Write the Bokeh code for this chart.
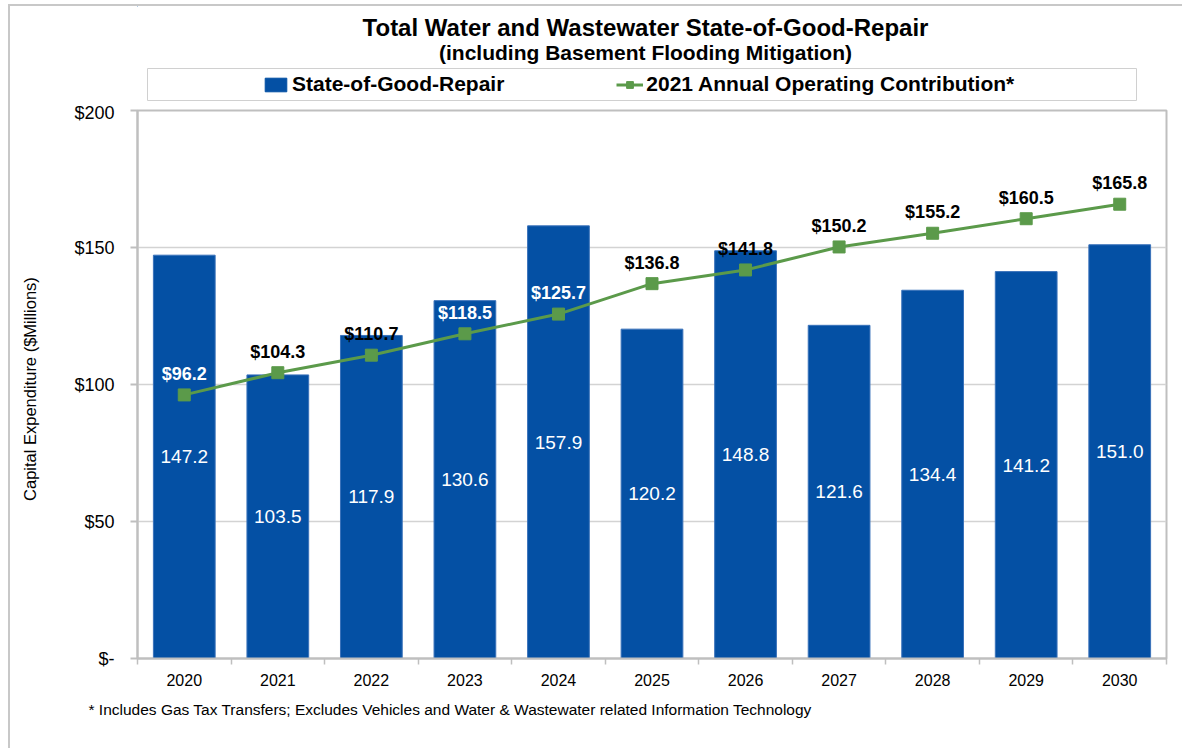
from bokeh.plotting import figure
from bokeh.models import (Range1d, Legend, LegendItem, FixedTicker, ColumnDataSource, Title)
from bokeh.layouts import column
from bokeh.core.properties import value
from bokeh.embed import file_html
from bokeh.resources import INLINE

# ---------------- data ----------------
years = ["2020", "2021", "2022", "2023", "2024", "2025", "2026", "2027", "2028", "2029", "2030"]
state_of_good_repair = [147.2, 103.5, 117.9, 130.6, 157.9, 120.2, 148.8, 121.6, 134.4, 141.2, 151.0]
operating_contribution = [96.2, 104.3, 110.7, 118.5, 125.7, 136.8, 141.8, 150.2, 155.2, 160.5, 165.8]
y_ticks = [0, 50, 100, 150, 200]
y_tick_labels = ["$-", "$50", "$100", "$150", "$200"]

title_text = "Total Water and Wastewater State-of-Good-Repair"
subtitle_text = "(including Basement Flooding Mitigation)"
series_names = ["State-of-Good-Repair", "2021 Annual Operating Contribution*"]
y_label = "Capital  Expenditure  ($Millions)"
footnote = "* Includes Gas Tax Transfers; Excludes Vehicles and Water & Wastewater related Information Technology"

# ---------------- styles ----------------
BAR = "#0450A4"
BAR_EDGE = "#3A72BA"
GREEN = "#5B9A4A"
GRAY = "#BFBFBF"
GRID = "#D3D3D3"
SANS = "Liberation Sans"

W = 1172
HEADER_H = 96
MAIN_H = 646
FRAME_L, FRAME_R = 137, 1166      # page pixels of the plot area (header frame is aligned to it)
HEAD_TOP = 6

# ---------------- header (titles + legend) ----------------
hp = figure(width=W, height=HEADER_H, x_range=Range1d(FRAME_L, FRAME_R),
            y_range=Range1d(HEAD_TOP + HEADER_H, HEAD_TOP),
            toolbar_location=None, output_backend="svg", min_border=0)
hp.axis.visible = False
hp.grid.visible = False
hp.outline_line_color = None

cx = 645
hp.text(x=[cx], y=[27], text=[title_text], text_font=value(SANS), text_font_size="24px",
        text_font_style="bold", text_align="center", text_baseline="middle", text_color="black")
hp.text(x=[cx], y=[52], text=[subtitle_text], text_font=value(SANS), text_font_size="21px",
        text_font_style="bold", text_align="center", text_baseline="middle", text_color="black")
hp.quad(left=[147], right=[1136], top=[68], bottom=[100], fill_color="white",
        line_color="#D0D0D0", line_width=1)

# off-screen stand-ins so the legend can draw its sample glyphs
dummy = ColumnDataSource(data=dict(x=[-1000], y=[-1000]))
r_bar = hp.vbar(x="x", top="y", width=1, source=dummy, fill_color=BAR, line_color=BAR)
r_line = hp.line(x="x", y="y", source=dummy, line_color=GREEN, line_width=3)
r_mark = hp.scatter(x="x", y="y", source=dummy, marker="square", size=10,
                    fill_color=GREEN, line_color=GREEN)
legend = Legend(items=[LegendItem(label=series_names[0], renderers=[r_bar]),
                       LegendItem(label=series_names[1], renderers=[r_line, r_mark])],
                orientation="horizontal", location=(125, 6),
                border_line_color=None, background_fill_alpha=0,
                padding=0, margin=0, spacing=112, label_standoff=3,
                glyph_width=27, glyph_height=17,
                label_text_font=SANS, label_text_font_size="21px",
                label_text_font_style="bold", label_text_color="black")
hp.add_layout(legend, "center")

# ---------------- main chart ----------------
n = len(years)
centers = [i + 0.5 for i in range(n)]
src = ColumnDataSource(data=dict(
    x=centers,
    sgr=state_of_good_repair,
    mid=[v / 2 for v in state_of_good_repair],
    sgr_label=[f"{v:.1f}" for v in state_of_good_repair],
    oc=operating_contribution,
    oc_label=[f"${v:.1f}" for v in operating_contribution],
    oc_color=["white" if b > c + 10 else "black"
              for b, c in zip(state_of_good_repair, operating_contribution)],
))

p = figure(width=W, height=MAIN_H, x_range=Range1d(0, n), y_range=Range1d(0, 200),
           toolbar_location=None, output_backend="svg",
           min_border_left=127, min_border_right=16, min_border_top=8, min_border_bottom=90)
p.outline_line_color = GRAY
p.outline_line_width = 2

p.vbar(x="x", top="sgr", width=0.66, source=src, fill_color=BAR, line_color=BAR_EDGE, line_width=1)
p.text(x="x", y="mid", text="sgr_label", source=src, text_font=value(SANS), text_font_size="19px",
       text_color="white", text_align="center", text_baseline="middle")
p.line(x="x", y="oc", source=src, line_color=GREEN, line_width=3)
p.scatter(x="x", y="oc", source=src, marker="square", size=12, fill_color=GREEN, line_color=GREEN)
p.text(x="x", y="oc", text="oc_label", source=src, text_font=value(SANS), text_font_size="18px",
       text_font_style="bold", text_color="oc_color", text_align="center",
       text_baseline="middle", y_offset=-21)

# y axis
p.yaxis.ticker = FixedTicker(ticks=y_ticks)
p.yaxis.major_label_overrides = {t: l for t, l in zip(y_ticks, y_tick_labels)}
p.yaxis.axis_line_color = GRAY
p.yaxis.axis_line_width = 2
p.yaxis.major_tick_line_color = GRAY
p.yaxis.major_tick_line_width = 2
p.yaxis.major_tick_out = 7
p.yaxis.major_tick_in = 0
p.yaxis.minor_tick_line_color = None
p.yaxis.major_label_text_font = SANS
p.yaxis.major_label_text_font_size = "18px"
p.yaxis.major_label_text_color = "black"
p.yaxis.major_label_standoff = 16
p.yaxis.axis_label = y_label
p.yaxis.axis_label_text_font = SANS
p.yaxis.axis_label_text_font_size = "16.5px"
p.yaxis.axis_label_text_font_style = "normal"
p.yaxis.axis_label_text_color = "black"
p.yaxis.axis_label_standoff = 32

# x axis: labels at centers, ticks at category boundaries
p.xaxis.ticker = FixedTicker(ticks=centers, minor_ticks=list(range(n + 1)))
p.xaxis.major_label_overrides = {c: y for c, y in zip(centers, years)}
p.xaxis.axis_line_color = GRAY
p.xaxis.axis_line_width = 2
p.xaxis.major_tick_line_color = None
p.xaxis.major_tick_out = 0
p.xaxis.major_tick_in = 0
p.xaxis.minor_tick_line_color = GRAY
p.xaxis.minor_tick_line_width = 1.5
p.xaxis.minor_tick_out = 6
p.xaxis.minor_tick_in = 0
p.xaxis.major_label_text_font = SANS
p.xaxis.major_label_text_font_size = "16px"
p.xaxis.major_label_text_color = "black"
p.xaxis.major_label_standoff = 9

p.xgrid.visible = False
p.ygrid.ticker = FixedTicker(ticks=y_ticks)
p.ygrid.grid_line_color = GRID
p.ygrid.grid_line_width = 1.5

p.add_layout(Title(text=footnote, align="left", offset=-49, text_font=SANS,
                   text_font_size="15.5px", text_font_style="normal", text_color="black",
                   standoff=21), "below")

layout = column(hp, p, spacing=0,
                styles={"border-left": "2px solid #C8C8C8", "border-top": "2px solid #C8C8C8",
                        "margin-left": "8px", "margin-top": "4px"})

open("out.html", "w").write(file_html(layout, INLINE))
